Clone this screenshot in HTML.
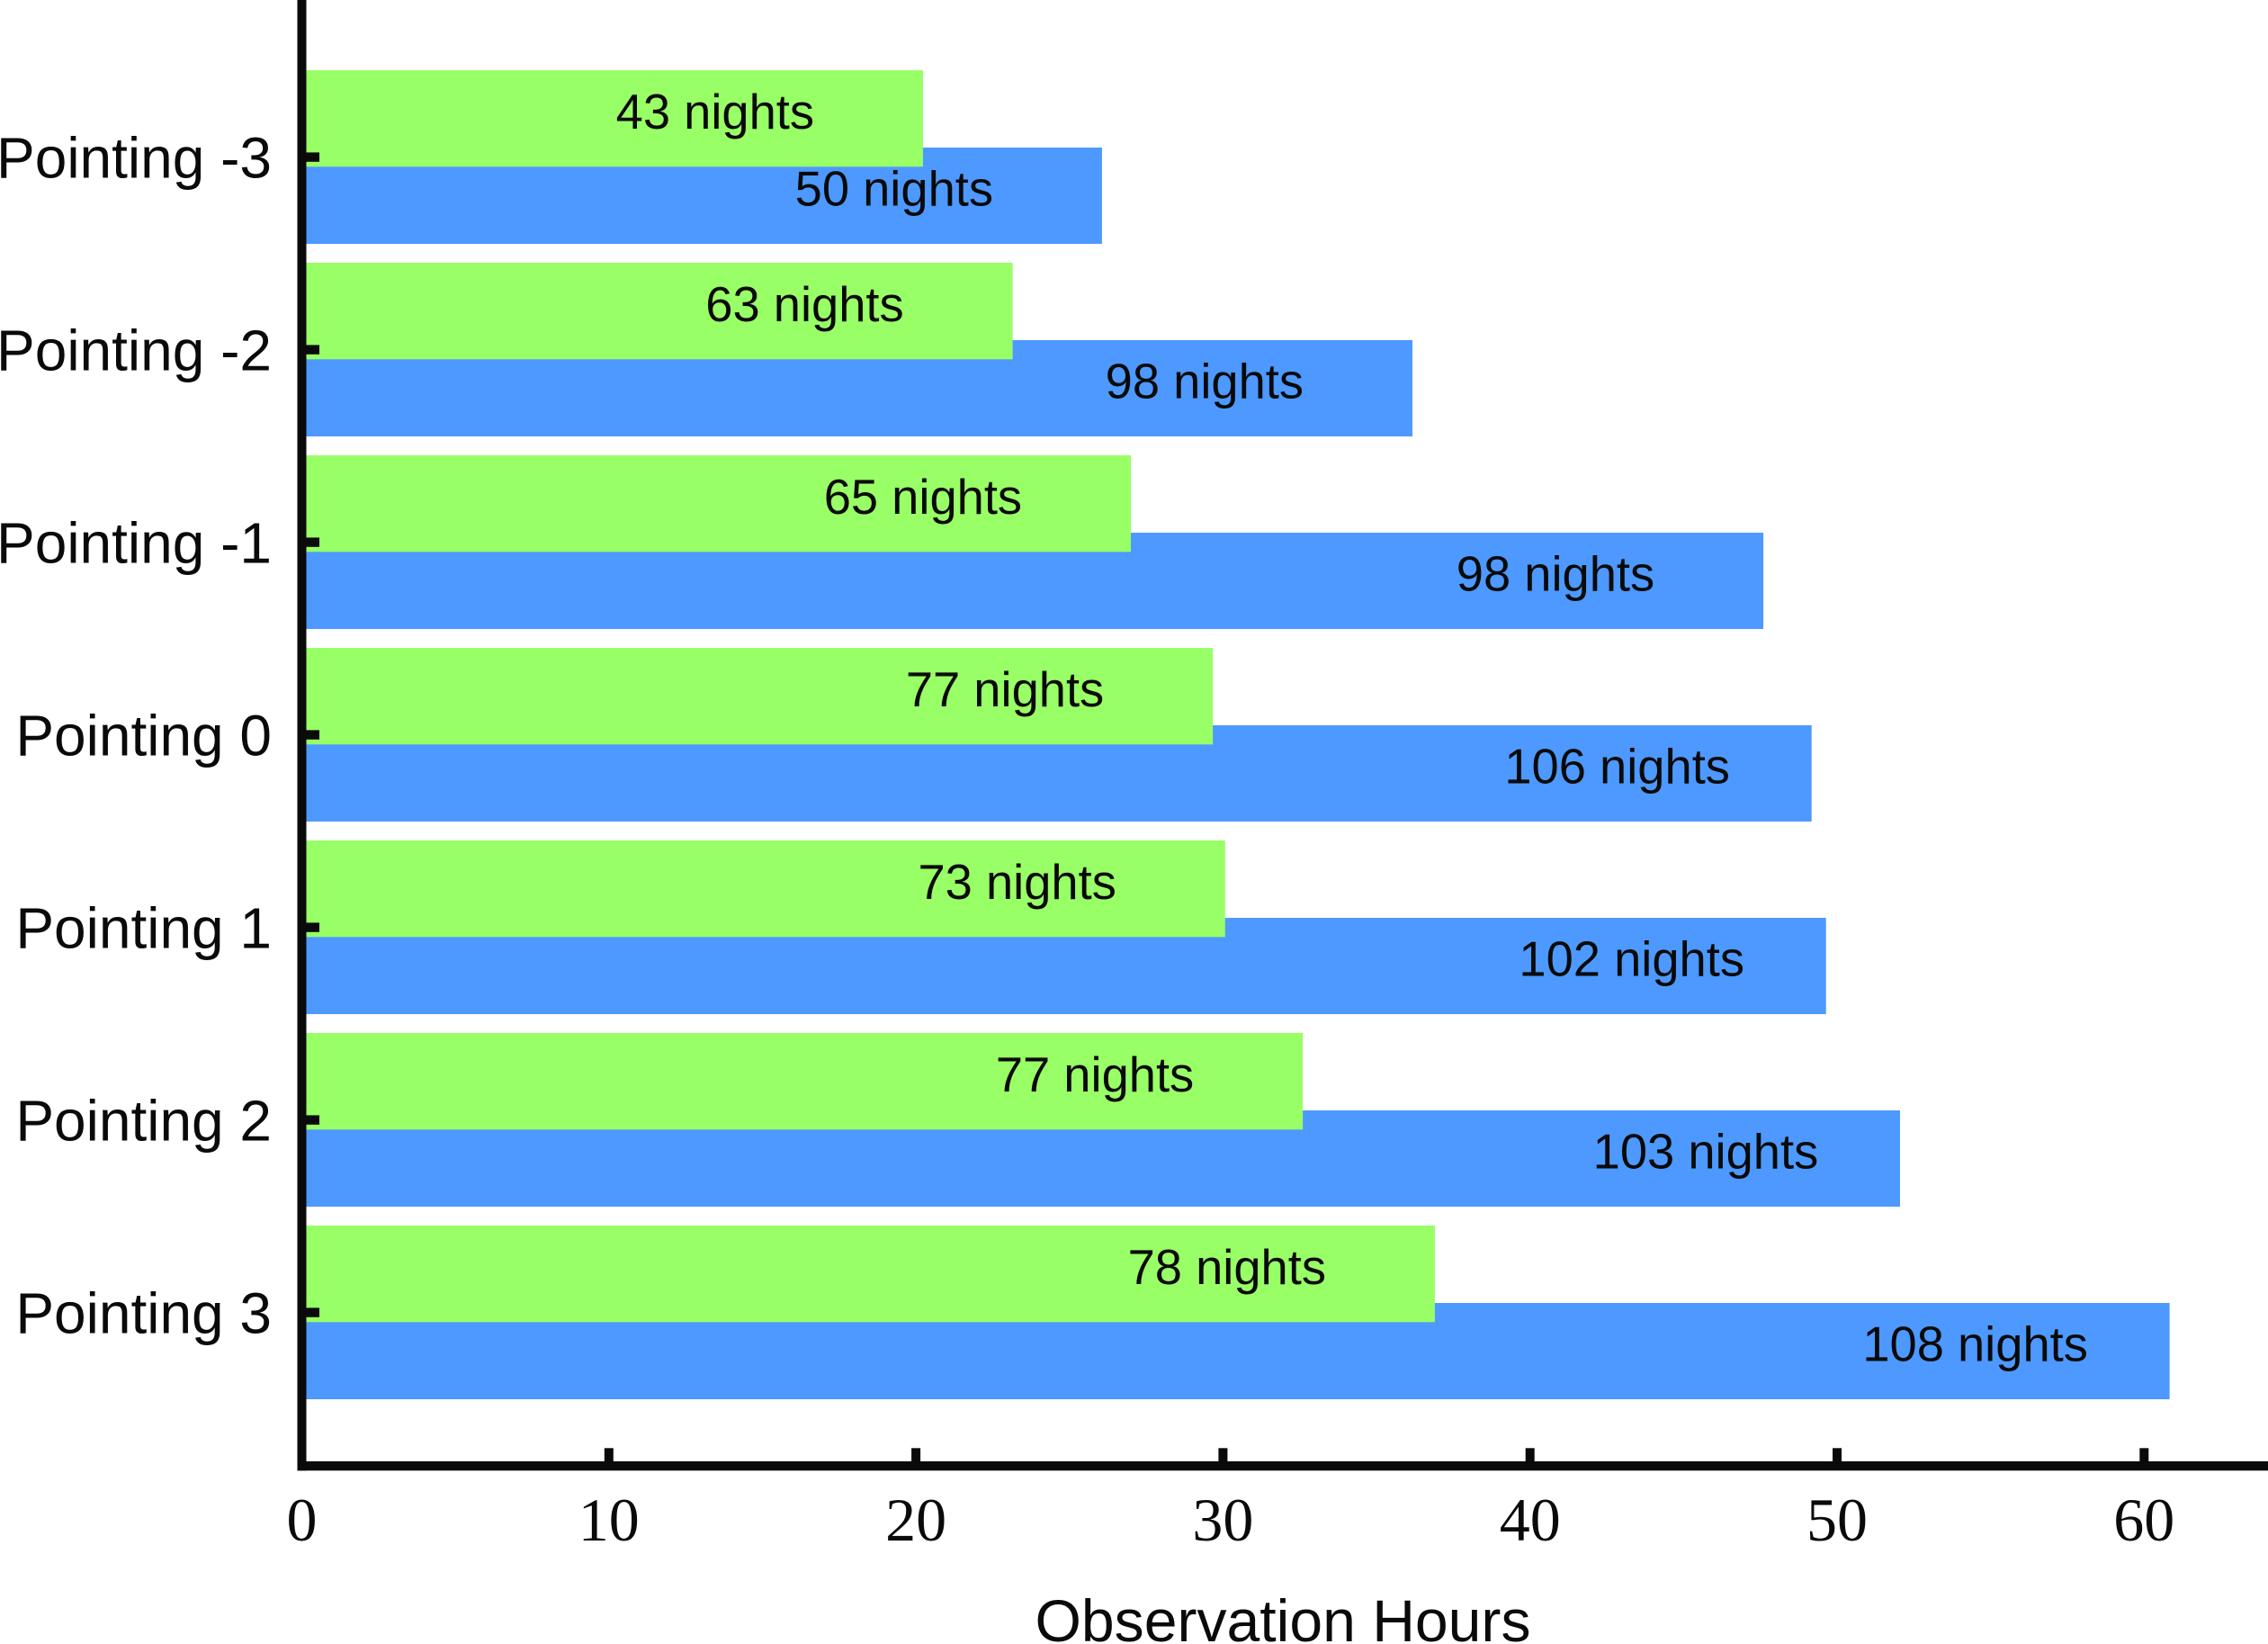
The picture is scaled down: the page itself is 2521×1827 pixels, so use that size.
<!DOCTYPE html>
<html lang="en">
<head>
<meta charset="utf-8">
<title>Observation Hours by Pointing</title>
<style>
html,body{margin:0;padding:0;background:#fff;}
body{width:2521px;height:1827px;overflow:hidden;}
svg{display:block;}
.sans{font-family:"Liberation Sans",sans-serif;fill:#0a0a0a;}
.serif{font-family:"Liberation Serif",serif;fill:#0a0a0a;}
</style>
</head>
<body>
<svg id="chart" xmlns="http://www.w3.org/2000/svg" width="2521" height="1827" viewBox="0 0 2521 1827">
  <rect x="0" y="0" width="2521" height="1827" fill="#ffffff"/>
  <g id="bars"></g>
  <g id="labels"></g>
  <g id="axes"></g>
  <text class="sans" x="1426" y="1824" font-size="66" text-anchor="middle" textLength="551" lengthAdjust="spacingAndGlyphs">Observation Hours</text>
</svg>
<script>
const categories = ['Pointing -3', 'Pointing -2', 'Pointing -1', 'Pointing 0', 'Pointing 1', 'Pointing 2', 'Pointing 3'];
const greenHours = [20.23, 23.15, 27.0, 29.67, 30.07, 32.6, 36.9];
const blueHours = [26.06, 36.17, 47.6, 49.17, 49.64, 52.05, 60.83];
const greenNights = [43, 63, 65, 77, 73, 77, 78];
const blueNights = [50, 98, 98, 106, 102, 103, 108];
const xTickValues = [0, 10, 20, 30, 40, 50, 60];
const labelOffsetHours = 10;

const NS = 'http://www.w3.org/2000/svg';
function xScale(v) { return 335.5 + v * 34.13; }
function yScale(i) { return 174.6 + i * 214; }

function make(tag, attrs, parent) {
  const el = document.createElementNS(NS, tag);
  for (const k in attrs) el.setAttribute(k, attrs[k]);
  parent.appendChild(el);
  return el;
}

const barsG = document.getElementById('bars');
const labelsG = document.getElementById('labels');
const axesG = document.getElementById('axes');
const x0 = xScale(0);

categories.forEach(function (cat, i) {
  const c = yScale(i);

  const blue = make('rect', { x: x0, y: c - 10.6, width: xScale(blueHours[i]) - x0, height: 107, fill: '#4d99ff' }, barsG);
  
  

  const green = make('rect', { x: x0, y: c - 96.6, width: xScale(greenHours[i]) - x0, height: 107.3, fill: '#99ff66' }, barsG);
  
  

  const gt = make('text', { class: 'sans', x: xScale(greenHours[i] - labelOffsetHours), y: c - 31.5, 'font-size': 54.3 }, labelsG);
  gt.textContent = greenNights[i] + ' nights';
  
  

  const bt = make('text', { class: 'sans', x: xScale(blueHours[i] - labelOffsetHours), y: c + 54, 'font-size': 54.3 }, labelsG);
  bt.textContent = blueNights[i] + ' nights';
  
  

  const tick = make('rect', { x: 340, y: c - 5.2, width: 15, height: 10.4, fill: '#0a0a0a' }, axesG);
  
  

  const yl = make('text', { class: 'sans', x: 302, y: c + 23, 'font-size': 64, 'text-anchor': 'end' }, axesG);
  yl.textContent = cat;
  
  
});

xTickValues.forEach(function (v) {
  const x = xScale(v);
  if (v !== 0) {
    const tick = make('rect', { x: x - 5, y: 1609.3, width: 10, height: 15, fill: '#0a0a0a' }, axesG);
    
    
  }
  const lab = make('text', { class: 'serif', x: x, y: 1712, 'font-size': 68, 'text-anchor': 'middle' }, axesG);
  lab.textContent = String(v);
  
  
});

const yAxis = make('rect', { x: 330.5, y: 0, width: 10, height: 1634.3, fill: '#0a0a0a' }, axesG);



const xAxis = make('rect', { x: 330.5, y: 1624, width: 2190.5, height: 10.3, fill: '#0a0a0a' }, axesG);


</script>
</body>
</html>
